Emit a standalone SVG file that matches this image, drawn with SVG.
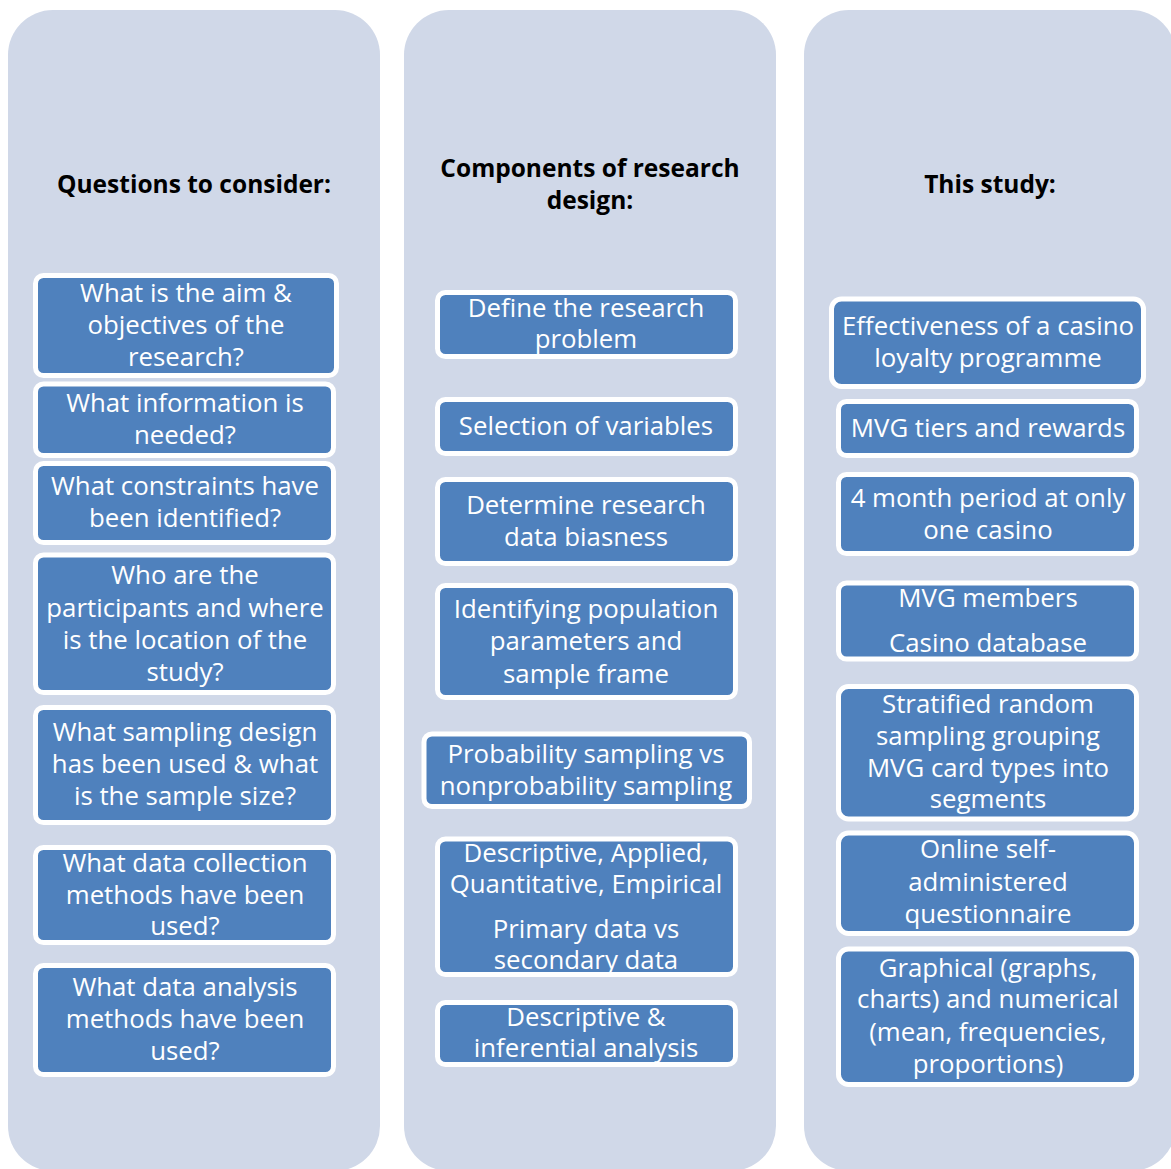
<svg xmlns="http://www.w3.org/2000/svg" width="1171" height="1169" viewBox="0 0 1171 1169">
<style>
.panel{fill:#D0D8E8}
.bf{fill:#4F81BD}
.bs{fill:none;stroke:#FFFFFF;stroke-width:5}
.t{font-family:"Open Sans","Noto Sans",sans-serif;font-size:25.8px;fill:#FFFFFF;text-anchor:middle}
.h{font-family:"Open Sans","Noto Sans",sans-serif;font-size:24.5px;font-weight:bold;fill:#000000;text-anchor:middle}
</style>
<rect width="1171" height="1169" fill="#FFFFFF"/>
<g id="panels">
<rect id="panel-left" class="panel" x="8" y="10" width="372" height="1161" rx="45"/>
<rect id="panel-middle" class="panel" x="404" y="10" width="372" height="1161" rx="45"/>
<rect id="panel-right" class="panel" x="804" y="10" width="372" height="1161" rx="45"/>
</g>
<g id="headings">
<text class="h" x="194" y="193">Questions to consider:</text>
<text class="h" x="590" y="177">Components of research</text>
<text class="h" x="590" y="209">design:</text>
<text class="h" x="990" y="193">This study:</text>
</g>
<g id="connectors"></g>
<!-- Left column -->
<g id="q1"><rect class="bf" x="35.5" y="275.5" width="301" height="100" rx="8"/><text class="t" x="186" y="302">What is the aim &amp;</text><text class="t" x="186" y="334">objectives of the</text><text class="t" x="186" y="366">research?</text><rect class="bs" x="35.5" y="275.5" width="301" height="100" rx="8"/></g>
<g id="q2"><rect class="bf" x="35.5" y="384" width="298" height="71.5" rx="8"/><text class="t" x="185" y="412">What information is</text><text class="t" x="185" y="444">needed?</text><rect class="bs" x="35.5" y="384" width="298" height="71.5" rx="8"/></g>
<g id="q3"><rect class="bf" x="35.5" y="463.5" width="298" height="79" rx="8"/><text class="t" x="185" y="495">What constraints have</text><text class="t" x="185" y="527">been identified?</text><rect class="bs" x="35.5" y="463.5" width="298" height="79" rx="8"/></g>
<g id="q4"><rect class="bf" x="35.5" y="555" width="298" height="137.5" rx="8"/><text class="t" x="185" y="584">Who are the</text><text class="t" x="185" y="617">participants and where</text><text class="t" x="185" y="649">is the location of the</text><text class="t" x="185" y="681">study?</text><rect class="bs" x="35.5" y="555" width="298" height="137.5" rx="8"/></g>
<g id="q5"><rect class="bf" x="35.5" y="707.5" width="298" height="115" rx="8"/><text class="t" x="185" y="741">What sampling design</text><text class="t" x="185" y="773">has been used &amp; what</text><text class="t" x="185" y="805">is the sample size?</text><rect class="bs" x="35.5" y="707.5" width="298" height="115" rx="8"/></g>
<g id="q6"><rect class="bf" x="35.5" y="847.5" width="298" height="95" rx="8"/><text class="t" x="185" y="872">What data collection</text><text class="t" x="185" y="904">methods have been</text><text class="t" x="185" y="935">used?</text><rect class="bs" x="35.5" y="847.5" width="298" height="95" rx="8"/></g>
<g id="q7"><rect class="bf" x="35.5" y="965.5" width="298" height="109" rx="8"/><text class="t" x="185" y="996">What data analysis</text><text class="t" x="185" y="1028">methods have been</text><text class="t" x="185" y="1060">used?</text><rect class="bs" x="35.5" y="965.5" width="298" height="109" rx="8"/></g>
<!-- Middle column -->
<g id="c1"><rect class="bf" x="437.5" y="292.5" width="298" height="64" rx="8"/><text class="t" x="586" y="317">Define the research</text><text class="t" x="586" y="348">problem</text><rect class="bs" x="437.5" y="292.5" width="298" height="64" rx="8"/></g>
<g id="c2"><rect class="bf" x="437.5" y="399.5" width="298" height="54" rx="8"/><text class="t" x="586" y="435">Selection of variables</text><rect class="bs" x="437.5" y="399.5" width="298" height="54" rx="8"/></g>
<g id="c3"><rect class="bf" x="437.5" y="479.5" width="298" height="84" rx="8"/><text class="t" x="586" y="514">Determine research</text><text class="t" x="586" y="546">data biasness</text><rect class="bs" x="437.5" y="479.5" width="298" height="84" rx="8"/></g>
<g id="c4"><rect class="bf" x="437.5" y="585.5" width="298" height="112" rx="8"/><text class="t" x="586" y="618">Identifying population</text><text class="t" x="586" y="650">parameters and</text><text class="t" x="586" y="683">sample frame</text><rect class="bs" x="437.5" y="585.5" width="298" height="112" rx="8"/></g>
<g id="c5"><rect class="bf" x="424" y="734" width="325.5" height="72.5" rx="8"/><text class="t" x="586" y="763">Probability sampling vs</text><text class="t" x="586" y="795">nonprobability sampling</text><rect class="bs" x="424" y="734" width="325.5" height="72.5" rx="8"/></g>
<g id="c6"><rect class="bf" x="437.5" y="839" width="298" height="135.5" rx="8"/><text class="t" x="586" y="862">Descriptive, Applied,</text><text class="t" x="586" y="893">Quantitative, Empirical</text><text class="t" x="586" y="938">Primary data vs</text><text class="t" x="586" y="969">secondary data</text><rect class="bs" x="437.5" y="839" width="298" height="135.5" rx="8"/></g>
<g id="c7"><rect class="bf" x="437.5" y="1002.5" width="298" height="62" rx="8"/><text class="t" x="586" y="1026">Descriptive &amp;</text><text class="t" x="586" y="1057">inferential analysis</text><rect class="bs" x="437.5" y="1002.5" width="298" height="62" rx="8"/></g>
<!-- Right column -->
<g id="s1"><rect class="bf" x="831.5" y="299" width="312" height="87.5" rx="10"/><text class="t" x="988" y="335">Effectiveness of a casino</text><text class="t" x="988" y="367">loyalty programme</text><rect class="bs" x="831.5" y="299" width="312" height="87.5" rx="10"/></g>
<g id="s2"><rect class="bf" x="838.5" y="401.5" width="298" height="54" rx="8"/><text class="t" x="988" y="437">MVG tiers and rewards</text><rect class="bs" x="838.5" y="401.5" width="298" height="54" rx="8"/></g>
<g id="s3"><rect class="bf" x="838.5" y="474.5" width="298" height="79" rx="8"/><text class="t" x="988" y="507">4 month period at only</text><text class="t" x="988" y="539">one casino</text><rect class="bs" x="838.5" y="474.5" width="298" height="79" rx="8"/></g>
<g id="s4"><rect class="bf" x="838.5" y="583" width="298" height="76" rx="8"/><text class="t" x="988" y="607">MVG members</text><text class="t" x="988" y="652">Casino database</text><rect class="bs" x="838.5" y="583" width="298" height="76" rx="8"/></g>
<g id="s5"><rect class="bf" x="838.5" y="686.5" width="298" height="132.5" rx="10"/><text class="t" x="988" y="713">Stratified random</text><text class="t" x="988" y="745">sampling grouping</text><text class="t" x="988" y="777">MVG card types into</text><text class="t" x="988" y="808">segments</text><rect class="bs" x="838.5" y="686.5" width="298" height="132.5" rx="10"/></g>
<g id="s6"><rect class="bf" x="838.5" y="833" width="298" height="100.5" rx="10"/><text class="t" x="988" y="858">Online self-</text><text class="t" x="988" y="891">administered</text><text class="t" x="988" y="923">questionnaire</text><rect class="bs" x="838.5" y="833" width="298" height="100.5" rx="10"/></g>
<g id="s7"><rect class="bf" x="838.5" y="949" width="298" height="135.5" rx="10"/><text class="t" x="988" y="977">Graphical (graphs,</text><text class="t" x="988" y="1008">charts) and numerical</text><text class="t" x="988" y="1041">(mean, frequencies,</text><text class="t" x="988" y="1073">proportions)</text><rect class="bs" x="838.5" y="949" width="298" height="135.5" rx="10"/></g>
</svg>
